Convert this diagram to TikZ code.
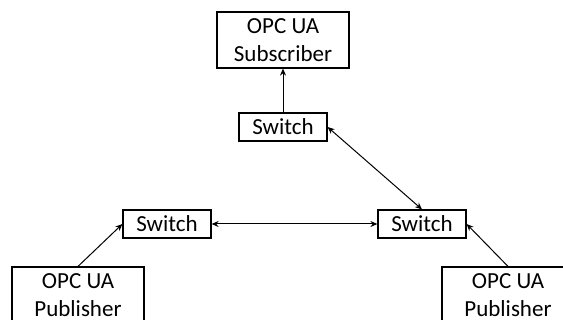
\documentclass[tikz,border=0pt]{standalone}
\usepackage{fontspec}
\setmainfont{Carlito}
\usetikzlibrary{arrows.meta}

\begin{document}
\begin{tikzpicture}[
  x=1pt, y=-1pt,
  every node/.style={font=\fontsize{23}{28}\selectfont},
  unit/.style={draw, line width=1.2pt, align=center, inner sep=0pt,
    minimum width=132pt, minimum height=56pt},
  switchbox/.style={draw, line width=1.2pt, inner sep=0pt,
    minimum width=88pt, minimum height=28pt},
  link/.style={draw, line width=1pt, -{Stealth[length=7pt,width=6pt]}},
  duplex/.style={draw, line width=1pt, {Stealth[length=7pt,width=6pt]}-{Stealth[length=7pt,width=6pt]}}
]

\useasboundingbox (0,0) rectangle (563,320);

\node[unit] (sub) at (283,40) {OPC UA\\Subscriber};
\node[switchbox] (tsw) at (283,127) {Switch};
\node[switchbox] (lsw) at (167,224) {Switch};
\node[switchbox] (rsw) at (422,224) {Switch};
\node[unit] (lpub) at (78,295) {OPC UA\\Publisher};
\node[unit] (rpub) at (508,295) {OPC UA\\Publisher};

\draw[link] (tsw) -- (sub);
\draw[duplex] (tsw.east) -- (rsw.north);
\draw[duplex] (lsw) -- (rsw);
\draw[link] (lpub.north) -- (lsw.west);
\draw[link] (rpub.north) -- (rsw.east);

\end{tikzpicture}
\end{document}
